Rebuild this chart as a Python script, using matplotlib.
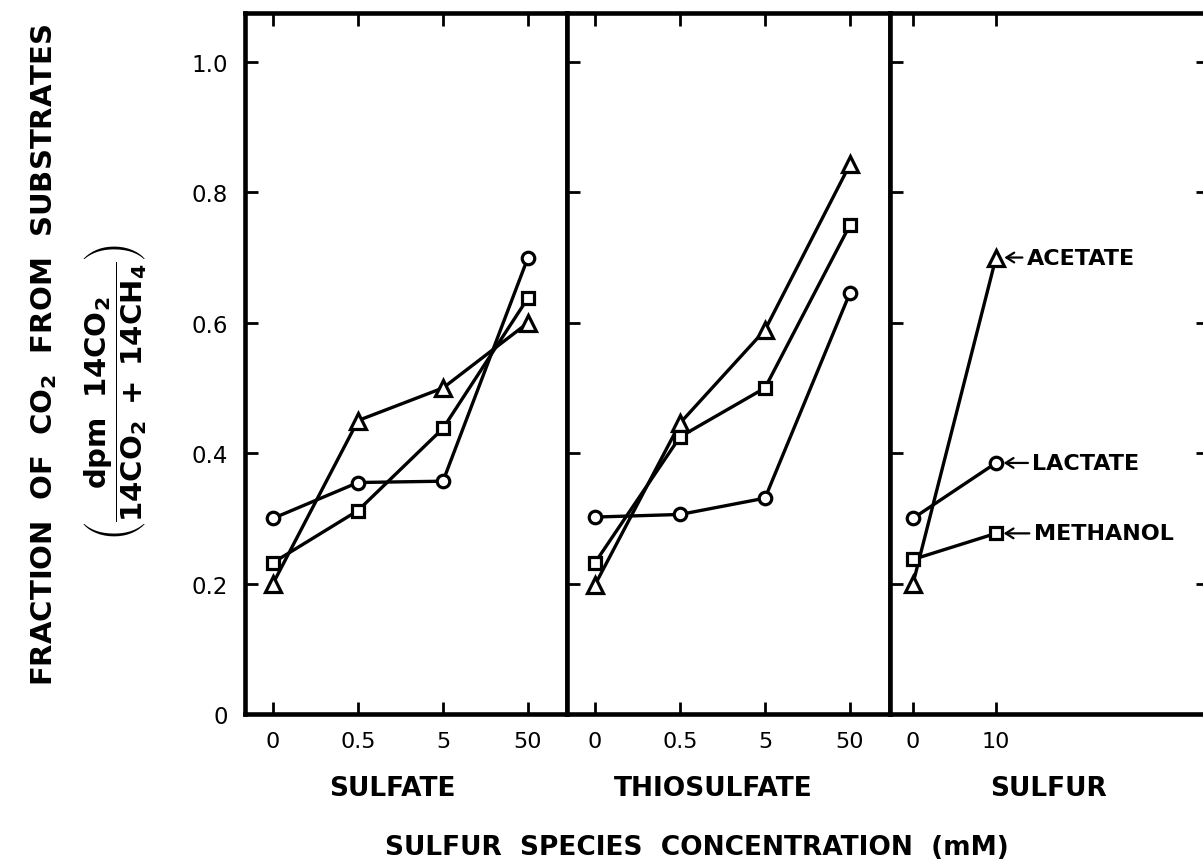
import matplotlib
matplotlib.use("Agg")
import matplotlib.pyplot as plt

# ---- data ----
conc_labels_4 = ["0", "0.5", "5", "50"]
conc_labels_2 = ["0", "10"]
y_tick_values = [0, 0.2, 0.4, 0.6, 0.8, 1.0]
y_tick_labels = ["0", "0.2", "0.4", "0.6", "0.8", "1.0"]

sulfate_acetate = [0.20, 0.45, 0.50, 0.60]
sulfate_lactate = [0.30, 0.355, 0.357, 0.70]
sulfate_methanol = [0.232, 0.312, 0.438, 0.638]

thio_acetate = [0.198, 0.446, 0.589, 0.843]
thio_lactate = [0.302, 0.306, 0.331, 0.646]
thio_methanol = [0.232, 0.425, 0.50, 0.75]

sulfur_acetate = [0.20, 0.70]
sulfur_lactate = [0.30, 0.385]
sulfur_methanol = [0.237, 0.277]

group_names = ["SULFATE", "THIOSULFATE", "SULFUR"]
substrate_names = ["ACETATE", "LACTATE", "METHANOL"]

# ---- figure ----
W, H = 1203, 862
fig = plt.figure(figsize=(W / 100, H / 100), dpi=100)

def px_box(l, r, t, b):
    return [l / W, 1 - b / H, (r - l) / W, (b - t) / H]

top_px, bot_px = 14, 715
ax1 = fig.add_axes(px_box(245, 567, top_px, bot_px))
ax2 = fig.add_axes(px_box(567, 890, top_px, bot_px))
ax3 = fig.add_axes(px_box(890, 1208, top_px, bot_px))

unit = 85.0
ax1.set_xlim((245 - 273) / unit, (567 - 273) / unit)
ax2.set_xlim((567 - 595) / unit, (890 - 595) / unit)
ax3.set_xlim((890 - 913) / 83.0, (1208 - 913) / 83.0)

line_kw = dict(color="black", lw=2.4, mfc="white", mec="black", mew=2.3)
mk = {"ACETATE": dict(marker="^", ms=11.5),
      "LACTATE": dict(marker="o", ms=9),
      "METHANOL": dict(marker="s", ms=8.5)}

def draw(ax, labels, series):
    xs = list(range(len(labels)))
    for name, vals in zip(substrate_names, series):
        ax.plot(xs, vals, **line_kw, **mk[name], zorder=3)
    ax.set_xticks(xs)
    ax.set_xticklabels(labels)

draw(ax1, conc_labels_4, [sulfate_acetate, sulfate_lactate, sulfate_methanol])
draw(ax2, conc_labels_4, [thio_acetate, thio_lactate, thio_methanol])
draw(ax3, conc_labels_2, [sulfur_acetate, sulfur_lactate, sulfur_methanol])

for i, ax in enumerate([ax1, ax2, ax3]):
    ax.set_ylim(0, 1.075)
    ax.set_yticks(y_tick_values)
    for s in ax.spines.values():
        s.set_linewidth(3.3)
    ax.tick_params(axis="x", direction="in", length=9, width=2.0,
                   top=True, bottom=True, labelsize=16, pad=12)
    ax.tick_params(axis="y", direction="in", length=9, width=2.0,
                   left=True, right=(i == 2), labelleft=(i == 0),
                   labelright=False, labelsize=16.5, pad=12)
    if i == 0:
        ax.set_yticklabels(y_tick_labels)

# annotations in sulfur panel
ann_series = [sulfur_acetate, sulfur_lactate, sulfur_methanol]
offsets = [22, 26, 27]
shrinks = [6, 5.5, 5.5]
for name, vals, off, shr in zip(substrate_names, ann_series, offsets, shrinks):
    ax3.annotate(name, xy=(1, vals[1]), xytext=(off, 0), textcoords="offset points",
                 ha="left", va="center", fontsize=16, fontweight="bold",
                 arrowprops=dict(arrowstyle="->,head_length=0.35,head_width=0.22",
                                 lw=1.6, color="black", shrinkA=1, shrinkB=shr))

# group labels
for name, cx in zip(group_names, [392, 713, 1048]):
    fig.text(cx / W, 1 - 789 / H, name, ha="center", va="center",
             fontsize=19, fontweight="bold")

fig.text(697 / W, 1 - 848 / H, "SULFUR  SPECIES  CONCENTRATION  (mM)",
         ha="center", va="center", fontsize=19, fontweight="bold")

fig.text(44 / W, 1 - 355 / H, r"FRACTION  OF  CO$_\mathbf{2}$  FROM  SUBSTRATES",
         rotation=90, ha="center", va="center", fontsize=21, fontweight="bold")

fig.text(116 / W, 1 - 392 / H,
         r"$\left(\dfrac{\mathbf{dpm\ \ 14CO_2}}{\mathbf{14CO_2\ +\ 14CH_4}}\right)$",
         rotation=90, ha="center", va="center", fontsize=21)

fig.savefig("out.png", dpi=100)
